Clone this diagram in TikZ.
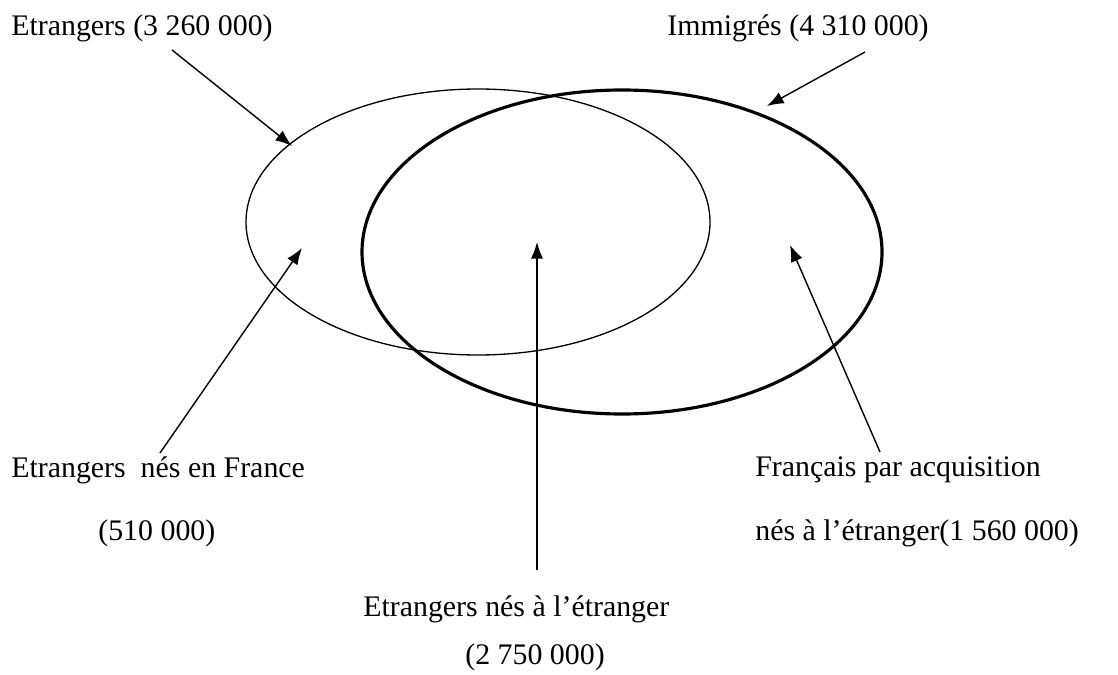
\documentclass[tikz,border=0pt]{standalone}
\usepackage{fontspec}
\setmainfont{Liberation Serif}
\usepackage{tikz}
\usetikzlibrary{arrows.meta}

\tikzset{
  lbl/.style={anchor=west, inner sep=0pt, font=\fontsize{17}{20}\selectfont},
  pointer/.style={-{Latex[length=9.5pt,width=7pt]}, line width=0.8pt},
}

\begin{document}
\begin{tikzpicture}[x=0.02cm,y=-0.02cm]
\useasboundingbox (0,0) rectangle (1118,675);
% the two sets
\draw[line width=0.75pt] (478,222) ellipse [x radius=232, y radius=133];
\draw[line width=1.8pt] (622,252) ellipse [x radius=260, y radius=162];
% labels
\node[lbl] (etr) at (11,28) {Etrangers (3 260 000)};
\node[lbl] (imm) at (667,28) {Immigr\'es (4 310 000)};
\node[lbl] (efr) at (11,470) {Etrangers\ \ n\'es en France};
\node[lbl] (efrn) at (98,533) {(510 000)};
\node[lbl] (eet) at (363,609) {Etrangers n\'es \`a l'\'etranger};
\node[lbl] (eetn) at (465,657) {(2 750 000)};
\node[lbl] (fra) at (755,470) {Fran\c{c}ais par acquisition};
\node[lbl] (fran) at (755,533) {n\'es \`a l'\'etranger(1 560 000)};
% arrow ends
\coordinate (etr-s) at (172,50);  \coordinate (etr-t) at (292,146);
\coordinate (imm-s) at (865,52);  \coordinate (imm-t) at (767,106);
\coordinate (efr-s) at (160,453); \coordinate (efr-t) at (302,248);
\coordinate (eet-s) at (537,570); \coordinate (eet-t) at (537,242);
\coordinate (fra-s) at (880,452); \coordinate (fra-t) at (790,245);
\draw[pointer] (etr-s) -- (etr-t);
\draw[pointer] (imm-s) -- (imm-t);
\draw[pointer] (efr-s) -- (efr-t);
\draw[pointer] (eet-s) -- (eet-t);
\draw[pointer] (fra-s) -- (fra-t);
\end{tikzpicture}
\end{document}
